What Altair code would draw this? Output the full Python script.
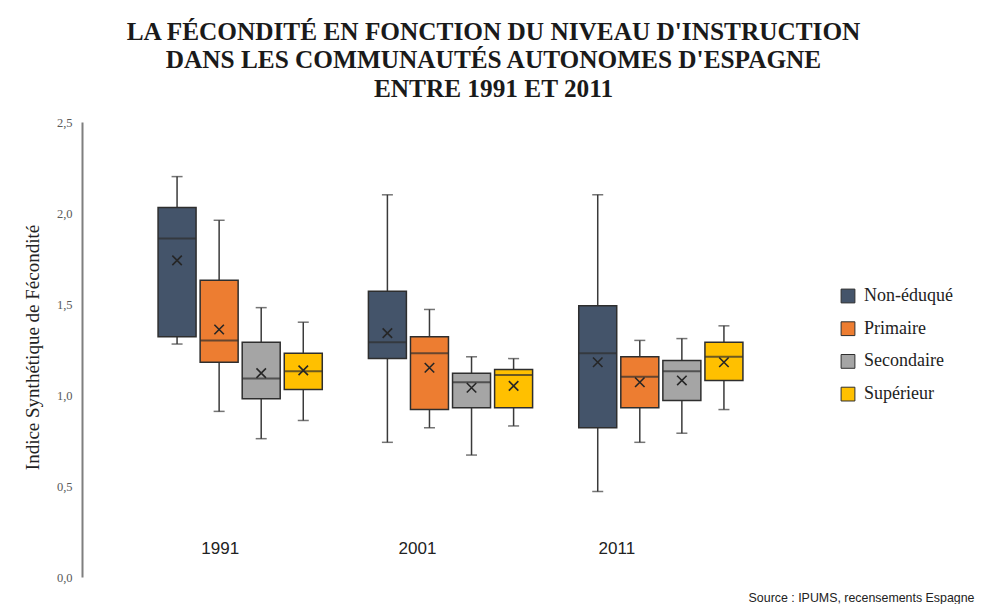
import altair as alt
import pandas as pd

years = ["1991", "2001", "2011"]
levels = ["Non-éduqué", "Primaire", "Secondaire", "Supérieur"]
colors = ["#44546A", "#ED7D31", "#A5A5A5", "#FFC000"]

# order: for each year, the four levels
mins    = [1.28, 0.91, 0.76, 0.86,  0.74, 0.82, 0.67, 0.83,  0.47, 0.74, 0.79, 0.92]
q1s     = [1.32, 1.18, 0.98, 1.03,  1.20, 0.92, 0.93, 0.93,  0.82, 0.93, 0.97, 1.08]
medians = [1.86, 1.30, 1.09, 1.13,  1.29, 1.23, 1.07, 1.11,  1.23, 1.10, 1.13, 1.21]
q3s     = [2.03, 1.63, 1.29, 1.23,  1.57, 1.32, 1.12, 1.14,  1.49, 1.21, 1.19, 1.29]
maxs    = [2.20, 1.96, 1.48, 1.40,  2.10, 1.47, 1.21, 1.20,  2.10, 1.30, 1.31, 1.38]
means   = [1.74, 1.36, 1.12, 1.135, 1.34, 1.15, 1.04, 1.05,  1.18, 1.07, 1.08, 1.18]

rows = []
i = 0
for y in years:
    for lv in levels:
        rows.append({"annee": y, "niveau": lv, "min": mins[i], "q1": q1s[i],
                     "med": medians[i], "q3": q3s[i], "max": maxs[i], "moy": means[i]})
        i += 1
df = pd.DataFrame(rows)

DARK = "#2e2e2e"

x_enc = alt.X("annee:N", sort=years,
              scale=alt.Scale(paddingInner=0.2, paddingOuter=0.352),
              axis=alt.Axis(title="Source : IPUMS, recensements Espagne",
                            titleFont="Liberation Sans", titleFontSize=12.4,
                            titleFontWeight="normal", titleColor="#222222",
                            titleX=892, titleY=27, titleAlign="right",
                            titleBaseline="bottom",
                            labelAngle=0, domain=False, ticks=False, tickSize=0,
                            labelFont="Liberation Sans", labelFontSize=17,
                            labelColor="#222222", labelBaseline="middle",
                            labelPadding=-29,
                            labelOffset={"condition": [
                                {"test": "datum.value == '1991'", "value": -20},
                                {"test": "datum.value == '2001'", "value": -33}],
                                "value": -44}))
xo_enc = alt.XOffset("niveau:N", sort=levels,
                     scale=alt.Scale(paddingInner=0, paddingOuter=0))
y_scale = alt.Scale(domain=[0, 2.5], nice=False, zero=True)
y_axis = alt.Axis(values=[0, 0.5, 1, 1.5, 2, 2.5],
                  labelExpr="replace(format(datum.value, '.1f'), '.', ',')",
                  title="Indice Synthétique de Fécondité",
                  titleFont="Liberation Serif", titleFontSize=19,
                  titleFontWeight="normal", titleColor="#222222",
                  titleX=-50, titleY=225, titleAngle=-90,
                  titleAlign="center", titleBaseline="middle",
                  labelFont="Liberation Serif", labelFontSize=12.5,
                  labelColor="#595959", labelPadding=10,
                  grid=False, ticks=False, domainColor="#7f7f7f", domainWidth=2)

base = alt.Chart(df).encode(x=x_enc, xOffset=xo_enc)

whisk = base.mark_rule(color="#3a3a3a", strokeWidth=1.5).encode(
    y=alt.Y("min:Q", scale=y_scale, axis=y_axis), y2="max:Q")
cap_lo = base.mark_tick(color="#3a3a3a", thickness=1.5, size=11).encode(
    y=alt.Y("min:Q", scale=y_scale))
cap_hi = base.mark_tick(color="#3a3a3a", thickness=1.5, size=11).encode(
    y=alt.Y("max:Q", scale=y_scale))
box = base.mark_bar(size=38, stroke=DARK, strokeWidth=1.5).encode(
    y=alt.Y("q1:Q", scale=y_scale), y2="q3:Q",
    color=alt.Color("niveau:N", sort=levels,
                    scale=alt.Scale(domain=levels, range=colors),
                    legend=alt.Legend(title=None, orient="none",
                                      legendX=757, legendY=165,
                                      symbolType="square", symbolSize=190,
                                      symbolStrokeColor=DARK, symbolStrokeWidth=1,
                                      labelFont="Liberation Serif", labelFontSize=18,
                                      labelColor="#222222", rowPadding=14.7,
                                      labelOffset=7)))
med = base.mark_tick(color=DARK, thickness=2, size=38).encode(
    y=alt.Y("med:Q", scale=y_scale))
moy = base.mark_point(shape="M-1,-1L1,1M-1,1L1,-1", filled=False, color="#262626",
                      strokeWidth=1.6, size=90, opacity=1).encode(
    y=alt.Y("moy:Q", scale=y_scale))

chart = alt.layer(whisk, cap_lo, cap_hi, box, med, moy).properties(
    width=737, height=455,
    background="white",
    padding={"left": 74, "top": 114, "right": 160, "bottom": 27},
    autosize=alt.AutoSizeParams(type="none"),
    title=alt.TitleParams(
        text=["LA FÉCONDITÉ EN FONCTION DU NIVEAU D'INSTRUCTION",
              "DANS LES COMMUNAUTÉS AUTONOMES D'ESPAGNE",
              "ENTRE 1991 ET 2011"],
        font="Liberation Serif", fontSize=25.3, fontWeight="bold",
        color="#1a1a1a", lineHeight=28.5, anchor="middle", dx=43, offset=14)
).configure_view(stroke=None)

chart.save("out.html", embed_options={"renderer": "svg", "actions": False})
